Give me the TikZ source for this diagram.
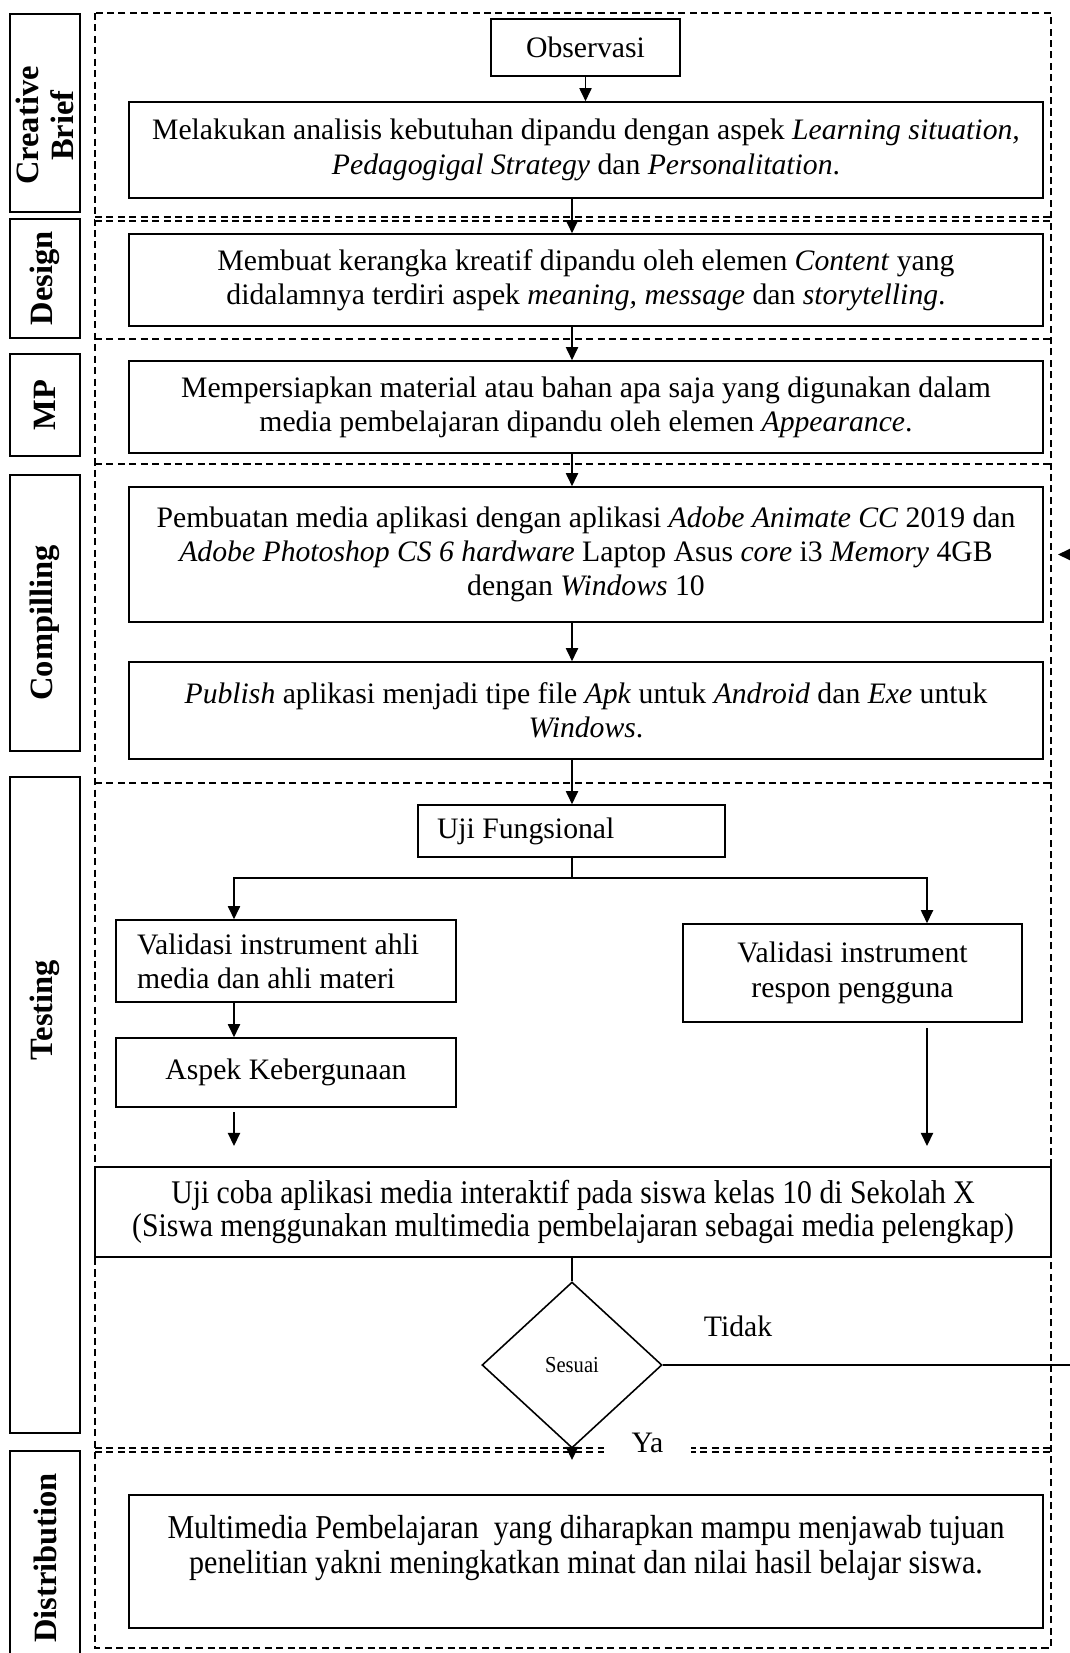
\documentclass[tikz,border=0pt]{standalone}
\usepackage{fontspec}
\setmainfont{Liberation Serif}
\newfontfamily\narrowserif[FakeStretch=0.9]{Liberation Serif}
\usetikzlibrary{positioning,arrows.meta,shapes.geometric}

\begin{document}
\begin{tikzpicture}[
  box/.style={draw, line width=0.9pt, align=center, inner sep=2pt, font=\fontsize{16.9}{19.5}\selectfont},
  narrowbox/.style={box, font=\narrowserif\fontsize{19}{19.5}\selectfont},
  lane/.style={draw, line width=1pt, rotate=90, minimum height=1.4cm, inner sep=1pt, align=center, font=\fontsize{18.5}{20}\selectfont\bfseries},
  arr/.style={-{Triangle[length=7.5pt,width=7pt]}, line width=0.8pt},
  link/.style={line width=0.8pt},
  divider/.style={line width=1pt, dash pattern=on 4pt off 2.5pt},
  twin/.style={divider, double, double distance=1.4pt},
  lbl/.style={font=\fontsize{16.9}{19.5}\selectfont}
]
\path[fill=white] (0,0) rectangle (21.4,-33.06);
\useasboundingbox (0,0) rectangle (21.4,-33.06);

% Outer frame and phase dividers
\draw[divider] (1.9,-0.26) rectangle (21.02,-32.96);
\draw[twin] (1.9,-4.38) -- (21.02,-4.38);
\draw[divider] (1.9,-6.78) -- (21.02,-6.78);
\draw[divider] (1.9,-9.28) -- (21.02,-9.28);
\draw[divider] (1.9,-15.66) -- (21.02,-15.66);
\draw[twin] (1.9,-29.0) -- (21.02,-29.0);

% Phase labels
\node[lane, minimum width=3.96cm] (lbrief) at (0.9,-2.26) {Creative\hspace*{0.5cm}\\Brief\hspace*{0.5cm}};
\node[lane, minimum width=2.38cm] (ldesign) at (0.9,-5.57) {Design};
\node[lane, minimum width=2.04cm] (lmp) at (0.9,-8.1) {MP};
\node[lane, minimum width=5.52cm] (lcompile) at (0.9,-12.26) {Compilling\hspace*{0.4cm}};
\node[lane, minimum width=13.12cm] (ltest) at (0.9,-22.1) {\hspace*{3.8cm}Testing};
\node[lane, minimum width=4.28cm] (ldist) at (0.9,-31.16) {Distribution};

% Creative brief, design, MP
\node[box, minimum width=3.78cm, minimum height=1.14cm] (obs) at (11.71,-0.95) {Observasi};
\node[box, minimum width=18.28cm, minimum height=1.92cm] (analisis) at (11.72,-3.0) {Melakukan analisis kebutuhan dipandu dengan aspek \textit{Learning situation,}\\\textit{Pedagogigal Strategy} dan \textit{Personalitation}.};
\node[box, minimum width=18.28cm, minimum height=1.84cm] (kerangka) at (11.72,-5.6) {Membuat kerangka kreatif dipandu oleh elemen \textit{Content} yang\\didalamnya terdiri aspek \textit{meaning, message} dan \textit{storytelling}.};
\node[box, minimum width=18.28cm, minimum height=1.84cm] (material) at (11.72,-8.14) {Mempersiapkan material atau bahan apa saja yang digunakan dalam\\media pembelajaran dipandu oleh elemen \textit{Appearance}.};

% Compilling
\node[box, minimum width=18.28cm, minimum height=2.7cm] (pembuatan) at (11.72,-11.09) {Pembuatan media aplikasi dengan aplikasi \textit{Adobe Animate CC} 2019 dan\\\textit{Adobe Photoshop CS 6 hardware} Laptop Asus \textit{core} i3 \textit{Memory} 4GB\\dengan \textit{Windows} 10};
\node[box, minimum width=18.28cm, minimum height=1.94cm] (publish) at (11.72,-14.21) {\textit{Publish} aplikasi menjadi tipe file \textit{Apk} untuk \textit{Android} dan \textit{Exe} untuk\\\textit{Windows}.};

% Testing
\node[box, align=flush left, inner xsep=0.38cm, text width=5.38cm, minimum height=1.04cm] (ujif) at (11.43,-16.62) {Uji Fungsional};
\node[box, align=flush left, inner xsep=0.42cm, text width=5.96cm, minimum height=1.64cm] (vahli) at (5.72,-19.22) {Validasi instrument ahli\\media dan ahli materi};
\node[box, minimum width=6.78cm, minimum height=1.96cm] (vresp) at (17.05,-19.46) {Validasi instrument\\respon pengguna};
\node[box, minimum width=6.8cm, minimum height=1.38cm] (aspek) at (5.72,-21.45) {Aspek Kebergunaan};
\node[narrowbox, font=\narrowserif\fontsize{18.8}{19}\selectfont, minimum width=19.12cm, minimum height=1.8cm] (ujicoba) at (11.46,-24.24) {Uji coba aplikasi media interaktif pada siswa kelas 10 di Sekolah X\\(Siswa menggunakan multimedia pembelajaran sebagai media pelengkap)};
\node[draw, diamond, line width=0.9pt, minimum width=3.6cm, minimum height=3.32cm, inner sep=0pt, font=\narrowserif\fontsize{13}{15}\selectfont] (sesuai) at (11.44,-27.3) {Sesuai};

% Distribution
\node[narrowbox, minimum width=18.28cm, minimum height=2.66cm] (hasil) at (11.72,-31.23) {Multimedia Pembelajaran \ yang diharapkan mampu menjawab tujuan\\penelitian yakni meningkatkan minat dan nilai hasil belajar siswa.\\\mbox{}};

% Connectors
\coordinate (spine) at (11.44,0);
\coordinate (split) at (11.44,-17.56);
\coordinate (colL) at (4.68,0);
\coordinate (colR) at (18.54,0);
\draw[arr] (obs.south) -- (obs.south |- analisis.north);
\draw[arr] (analisis.south -| spine) -- (kerangka.north -| spine);
\draw[arr] (kerangka.south -| spine) -- (material.north -| spine);
\draw[arr] (material.south -| spine) -- (pembuatan.north -| spine);
\draw[arr] (pembuatan.south -| spine) -- (publish.north -| spine);
\draw[arr] (publish.south -| spine) -- (ujif.north -| spine);
\draw[link] (ujif.south -| spine) -- (split);
\draw[arr] (split) -| (vahli.north -| colL);
\draw[arr] (split) -| (vresp.north -| colR);
\draw[arr] (vahli.south -| colL) -- (aspek.north -| colL);
\coordinate (aspOut) at (4.68,-22.24);
\coordinate (aspTip) at (4.68,-22.92);
\draw[arr] (aspOut) -- (aspTip);
\coordinate (respOut) at (18.54,-20.56);
\coordinate (respTip) at (18.54,-22.92);
\draw[arr] (respOut) -- (respTip);
\draw[link] (ujicoba.south -| spine) -- (sesuai.north);
\coordinate (yaTip) at (11.44,-29.2);
\draw[arr] (sesuai.south) -- (yaTip);
\coordinate (loopR) at (22.2,0);
\coordinate (fbTip) at (21.16,-11.09);
\draw[arr] (sesuai.east) -| (loopR |- fbTip) -- (fbTip);

% Decision labels
\node[lbl] (tidak) at (14.76,-26.52) {Tidak};
\node[lbl, fill=white, minimum width=1.74cm, inner ysep=1pt] (ya) at (12.95,-28.86) {Ya};

\end{tikzpicture}
\end{document}
